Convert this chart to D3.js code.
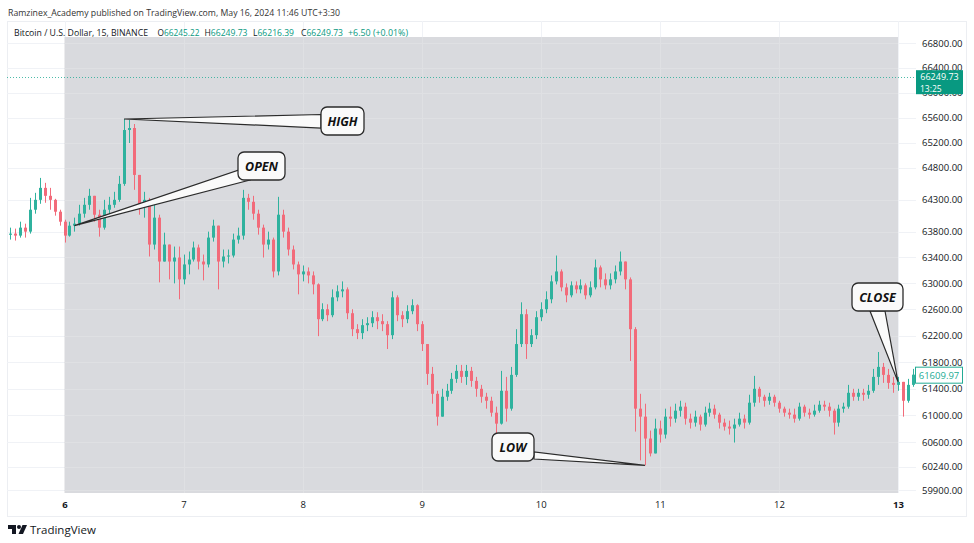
<!DOCTYPE html>
<html><head><meta charset="utf-8">
<script src="https://cdn.jsdelivr.net/npm/d3@7"></script>
<style>
body{margin:0;background:#fff}
svg{display:block}
text{font-family:"Open Sans","Noto Sans",sans-serif}
</style>
</head><body>
<svg id="chart" width="974" height="543"></svg>
<script>
// ---------------- data ----------------
const publishLine = "Ramzinex_Academy published on TradingView.com, May 16, 2024 11:46 UTC+3:30";
const symbolLine = "Bitcoin / U.S. Dollar, 15, BINANCE";
const ohlcLetters = ["O", "H", "L", "C"];
const ohlcValues = ["66245.22", "66249.73", "66216.39", "66249.73"];
const changeText = "+6.50 (+0.01%)";
const currentPrice = 66249.73;
const countdown = "13:25";

const startTime = "2024-05-05T13:00:00Z"; // hourly candles
const firstOpen = 63750;
const closes = [
 63768,63737,63861,63799,64141,64296,64484,64359,64296,64110,63954,63737,
 63892,63923,64079,64218,64359,64063,63861,64141,64218,64296,64547,65401,65433,64688,64218,64296,63598,64017,63335,63598,63335,63397,63060,63290,
 63366,63552,63335,63290,63706,63892,63335,63413,63428,63675,63737,64327,64265,64079,63861,63598,63675,63182,64063,63799,63521,63290,63137,63182,
 63121,62983,62450,62602,62511,62784,62876,62906,62541,62298,62238,62359,62389,62480,62420,62374,62207,62784,62511,62450,62572,62663,62374,62072,
 61622,61323,60982,61279,61368,61547,61667,61577,61667,61517,61398,61279,61219,61041,60878,61368,61101,61607,62072,62526,62072,62207,62480,62602,
 62754,63029,63182,62937,62815,62968,62906,62968,62815,62937,63244,63060,62968,63060,63182,63335,63060,62298,61101,60982,60657,60437,60805,60716,
 60982,60952,61071,61131,60952,60893,60982,60864,61041,61101,61012,60893,60834,60805,60864,60952,60893,61190,61398,61279,61219,61279,61190,61101,
 61041,61012,60952,61131,61041,61012,61071,61160,61131,61071,60893,61101,61131,61338,61279,61338,61309,61368,61577,61727,61607,61487,61457,61502,
 61219,61457,61609.97
];
const highs = [
 63861,63846,63954,63923,64327,64406,64641,64563,64484,64312,64141,63985,
 63954,64017,64218,64327,64469,64359,64141,64296,64343,64422,64673,65577,65561,65497,64532,64422,64327,64250,64063,63783,63598,63567,63567,63443,
 63490,63644,63598,63443,63799,63985,63799,63521,63521,63768,63861,64453,64390,64359,64141,63908,63799,63706,64343,64141,63861,63583,63335,63274,
 63244,63182,62998,62693,62678,62906,62968,63029,62937,62602,62374,62450,62480,62572,62556,62526,62420,62876,62815,62572,62663,62754,62678,62420,
 62072,61727,61368,61398,61472,61637,61757,61757,61757,61727,61577,61457,61338,61279,61131,61667,61577,61727,62298,62708,62602,62298,62572,62708,
 62876,63121,63428,63213,62998,63029,63029,63060,62998,63029,63366,63274,63152,63152,63274,63490,63335,63090,62329,61323,61175,60775,60952,60923,
 61101,61131,61175,61219,61190,61027,61071,61012,61131,61190,61160,61041,60952,60923,60952,61041,61012,61309,61592,61428,61309,61338,61309,61219,
 61131,61101,61101,61190,61160,61101,61160,61219,61219,61190,61101,61160,61190,61457,61398,61398,61398,61457,61697,61952,61787,61697,61577,61577,
 61487,61547,61697
];
const lows = [
 63675,63660,63706,63706,63768,64079,64234,64250,64141,64048,63892,63629,
 63721,63799,63892,64017,64141,63954,63721,63830,64079,64172,64265,64516,65194,64453,64063,64017,63413,63521,63014,63335,63060,62998,62754,62983,
 63137,63335,63213,63045,63244,63644,62906,63244,63305,63397,63613,63675,64141,63985,63752,63397,63521,63090,63121,63706,63428,63213,62830,63029,
 62998,62830,62192,62420,62420,62480,62724,62784,62450,62192,62147,62147,62268,62329,62298,62268,61997,62147,62420,62329,62389,62526,62268,61967,
 61457,61175,60849,60982,61219,61323,61487,61487,61457,61428,61279,61190,61101,60982,60686,60864,60908,61071,61577,62027,61847,62027,62147,62420,
 62541,62693,62983,62876,62708,62784,62845,62845,62754,62784,62906,62937,62906,62906,62998,63121,62906,61817,60760,60335,60262,60393,60437,60598,
 60657,60834,60893,60982,60864,60805,60834,60775,60834,60982,60952,60805,60775,60716,60598,60834,60805,60864,61131,61190,61131,61160,61131,61041,
 60982,60952,60893,60923,60982,60952,60982,61041,61071,60982,60716,60834,61041,61101,61219,61219,61219,61249,61338,61457,61487,61398,61338,61368,
 60982,61190,61428
];

const dayTicks = ["2024-05-06","2024-05-07","2024-05-08","2024-05-09","2024-05-10","2024-05-11","2024-05-12","2024-05-13"];
const boldDays = [6, 13];
const priceTicks = [66800,66400,66000,65600,65200,64800,64300,63800,63400,63000,62600,62200,61800,61400,61000,60600,60240,59900];
const rangeStart = "2024-05-06", rangeEnd = "2024-05-13";

// callouts: label, candle index, field of the candle the pointer touches
const calloutLabels = ["HIGH", "OPEN", "LOW", "CLOSE"];
const calloutIndex = [23, 13, 128, 179];
const calloutField = ["h", "o", "l", "c"];

// ---------------- layout ----------------
const pane = {left: 7, right: 916, top: 21, bottom: 493};
const axisRight = 966, axisBottom = 516;
const upColor = "#2fb29e", downColor = "#f26b7a", teal = "#089981", tealLight = "#22ab94";

const svg = d3.select("#chart");

const x = d3.scaleUtc()
  .domain([new Date(rangeStart + "T00:00:00Z"), new Date(rangeEnd + "T00:00:00Z")])
  .range([64.5, 898]);
const y = d3.scaleLog().domain([59900, 66800]).range([490, 43.3]);

const t0 = new Date(startTime).getTime();
const candles = closes.map((c, i) => ({
  t: new Date(t0 + i * 3600e3),
  o: i ? closes[i - 1] : firstOpen,
  h: highs[i], l: lows[i], c
}));

// pane borders
svg.append("rect").attr("x", pane.left + 0.5).attr("y", pane.top + 0.5)
  .attr("width", axisRight - pane.left).attr("height", axisBottom - pane.top)
  .attr("fill", "#fff").attr("stroke", "#eceef2");

// grid (white area)
const grid = svg.append("g");
grid.selectAll("line.h").data(priceTicks).join("line")
  .attr("x1", pane.left).attr("x2", pane.right)
  .attr("y1", d => Math.round(y(d)) + 0.5).attr("y2", d => Math.round(y(d)) + 0.5)
  .attr("stroke", "#f0f2f6");
grid.selectAll("line.v").data(dayTicks).join("line")
  .attr("y1", pane.top).attr("y2", pane.bottom)
  .attr("x1", d => Math.round(x(new Date(d + "T00:00:00Z"))) + 0.5)
  .attr("x2", d => Math.round(x(new Date(d + "T00:00:00Z"))) + 0.5)
  .attr("stroke", "#f0f2f6");

// date range highlight
const rx0 = x(new Date(rangeStart + "T00:00:00Z")), rx1 = x(new Date(rangeEnd + "T00:00:00Z"));
svg.append("rect").attr("x", rx0).attr("y", 37).attr("width", rx1 - rx0).attr("height", pane.bottom - 37)
  .attr("fill", "#d9dade");
const grid2 = svg.append("g");
grid2.selectAll("line").data(priceTicks.filter(d => y(d) > 37)).join("line")
  .attr("x1", rx0).attr("x2", rx1)
  .attr("y1", d => Math.round(y(d)) + 0.5).attr("y2", d => Math.round(y(d)) + 0.5)
  .attr("stroke", "#dfe0e3");
grid2.selectAll("line.v").data(dayTicks.slice(1, -1)).join("line")
  .attr("y1", 37).attr("y2", pane.bottom)
  .attr("x1", d => Math.round(x(new Date(d + "T00:00:00Z"))) + 0.5)
  .attr("x2", d => Math.round(x(new Date(d + "T00:00:00Z"))) + 0.5)
  .attr("stroke", "#dfe0e3");

// current price dotted line
svg.append("line").attr("x1", pane.left).attr("x2", pane.right)
  .attr("y1", Math.round(y(currentPrice)) + 0.5).attr("y2", Math.round(y(currentPrice)) + 0.5)
  .attr("stroke", tealLight).attr("stroke-dasharray", "1,2").attr("stroke-opacity", 0.8);

// candles
const bw = 3;
const cg = svg.append("g");
cg.selectAll("line").data(candles).join("line")
  .attr("x1", d => Math.round(x(d.t)) + 0.5).attr("x2", d => Math.round(x(d.t)) + 0.5)
  .attr("y1", d => y(Math.max(d.h, d.o, d.c))).attr("y2", d => y(Math.min(d.l, d.o, d.c)))
  .attr("stroke", d => d.c >= d.o ? upColor : downColor).attr("stroke-width", 1);
cg.selectAll("rect").data(candles).join("rect")
  .attr("x", d => Math.round(x(d.t)) - 1).attr("width", bw)
  .attr("y", d => y(Math.max(d.o, d.c)))
  .attr("height", d => Math.max(1, Math.abs(y(d.o) - y(d.c))))
  .attr("fill", d => d.c >= d.o ? upColor : downColor);

// header
svg.append("text").attr("x", 8).attr("y", 15.5).attr("font-size", 9.5).attr("fill", "#333")
  .attr("font-family", "Roboto,sans-serif")
  .attr("textLength", 332).attr("lengthAdjust", "spacingAndGlyphs")
  .text(publishLine);
const segX = [14, 157.5, 204.5, 253, 301, 348];
const segW = [134, 42, 43, 41, 42, 60];
const hdr = svg.append("g").attr("font-family", "Roboto,sans-serif").attr("font-size", 8.6);
hdr.append("text").attr("x", segX[0]).attr("y", 35.5).attr("fill", "#131722")
  .attr("textLength", segW[0]).attr("lengthAdjust", "spacingAndGlyphs").text(symbolLine);
ohlcLetters.forEach((L, i) => {
  const t = hdr.append("text").attr("x", segX[i + 1]).attr("y", 35.5)
    .attr("textLength", segW[i + 1]).attr("lengthAdjust", "spacingAndGlyphs");
  t.append("tspan").attr("fill", "#131722").text(L);
  t.append("tspan").attr("fill", teal).text(ohlcValues[i]);
});
hdr.append("text").attr("x", segX[5]).attr("y", 35.5).attr("fill", teal)
  .attr("textLength", segW[5]).attr("lengthAdjust", "spacingAndGlyphs").text(changeText);

// right price axis
const yAxis = d3.axisRight(y).tickValues(priceTicks).tickSize(0).tickPadding(0)
  .tickFormat(d => d3.format(".2f")(d));
const ya = svg.append("g").attr("transform", `translate(922,0)`).call(yAxis);
ya.select(".domain").remove();
ya.selectAll("text").attr("font-size", 9.5).attr("fill", "#131722")
  .attr("font-family", '"Open Sans",sans-serif');

// bottom time axis
const xAxis = d3.axisBottom(x).tickValues(dayTicks.map(d => new Date(d + "T00:00:00Z")))
  .tickSize(0).tickPadding(0).tickFormat(d3.utcFormat("%-d"));
const xa = svg.append("g").attr("transform", `translate(0,501)`).call(xAxis);
xa.select(".domain").remove();
xa.selectAll("text").attr("font-size", 9.5).attr("fill", "#131722")
  .attr("font-family", '"Open Sans",sans-serif')
  .attr("font-weight", d => boldDays.includes(d.getUTCDate()) ? 700 : 400);

// current price label
const cy = y(currentPrice);
svg.append("rect").attr("x", 916).attr("y", cy - 7).attr("width", 47).attr("height", 24).attr("fill", teal);
svg.append("text").attr("x", 939.5).attr("y", cy + 2.5).attr("text-anchor", "middle").attr("font-size", 9)
  .attr("fill", "#fff").text(d3.format(".2f")(currentPrice));
svg.append("text").attr("x", 920).attr("y", cy + 14.5).attr("font-size", 8.5)
  .attr("fill", "#fff").text(countdown);

// last close label (outlined)
const last = candles[candles.length - 1];
const ly = y(last.c);
svg.append("rect").attr("x", 915.5).attr("y", ly - 7.5).attr("width", 47).attr("height", 16)
  .attr("fill", "#fff").attr("stroke", tealLight);
svg.append("text").attr("x", 939).attr("y", ly + 4).attr("text-anchor", "middle").attr("font-size", 9.5)
  .attr("fill", tealLight).text(d3.format(".2f")(last.c));

// callouts
const boxes = [
  {x: 321, y: 107, w: 43, h: 28, base: [[321, 114.5], [321, 128]]},
  {x: 238, y: 152, w: 47, h: 28, base: [[239, 170], [250, 180]]},
  {x: 492, y: 433, w: 42, h: 28, base: [[534, 452], [534, 459]]},
  {x: 852, y: 283, w: 51, h: 28, base: [[870, 311], [885, 311]]}
];
const ag = svg.append("g");
calloutLabels.forEach((lab, i) => {
  const c = candles[calloutIndex[i]];
  const tip = [x(c.t), y(c[calloutField[i]])];
  const b = boxes[i];
  ag.append("path").attr("d", d3.line()([tip, b.base[0], b.base[1], tip]))
    .attr("fill", "#fafafa").attr("stroke", "#2b2b2b").attr("stroke-width", 1.2)
    .attr("stroke-linejoin", "miter");
  ag.append("rect").attr("x", b.x).attr("y", b.y).attr("width", b.w).attr("height", b.h)
    .attr("rx", 6).attr("fill", "#fafafa").attr("stroke", "#2b2b2b").attr("stroke-width", 1.3);
  ag.append("text").attr("x", b.x + b.w / 2).attr("y", b.y + b.h / 2 + 4.5)
    .attr("text-anchor", "middle").attr("font-family", '"Liberation Sans",Arial,sans-serif')
    .attr("font-style", "italic").attr("font-weight", 700).attr("font-size", 12.5).attr("fill", "#111")
    .text(lab);
});

// TradingView logo
const lg = svg.append("g").attr("transform", "translate(8,525)").attr("fill", "#131722");
lg.append("path").attr("d", "M0 0 H8 V9 H4 V4 H0 Z");
lg.append("circle").attr("cx", 11).attr("cy", 2).attr("r", 2);
lg.append("path").attr("d", "M14.5 0 H19 L15 9 H10.5 Z");
svg.append("text").attr("x", 30).attr("y", 534).attr("font-size", 11.5).attr("fill", "#131722")
  .text("TradingView");
</script>
</body></html>
